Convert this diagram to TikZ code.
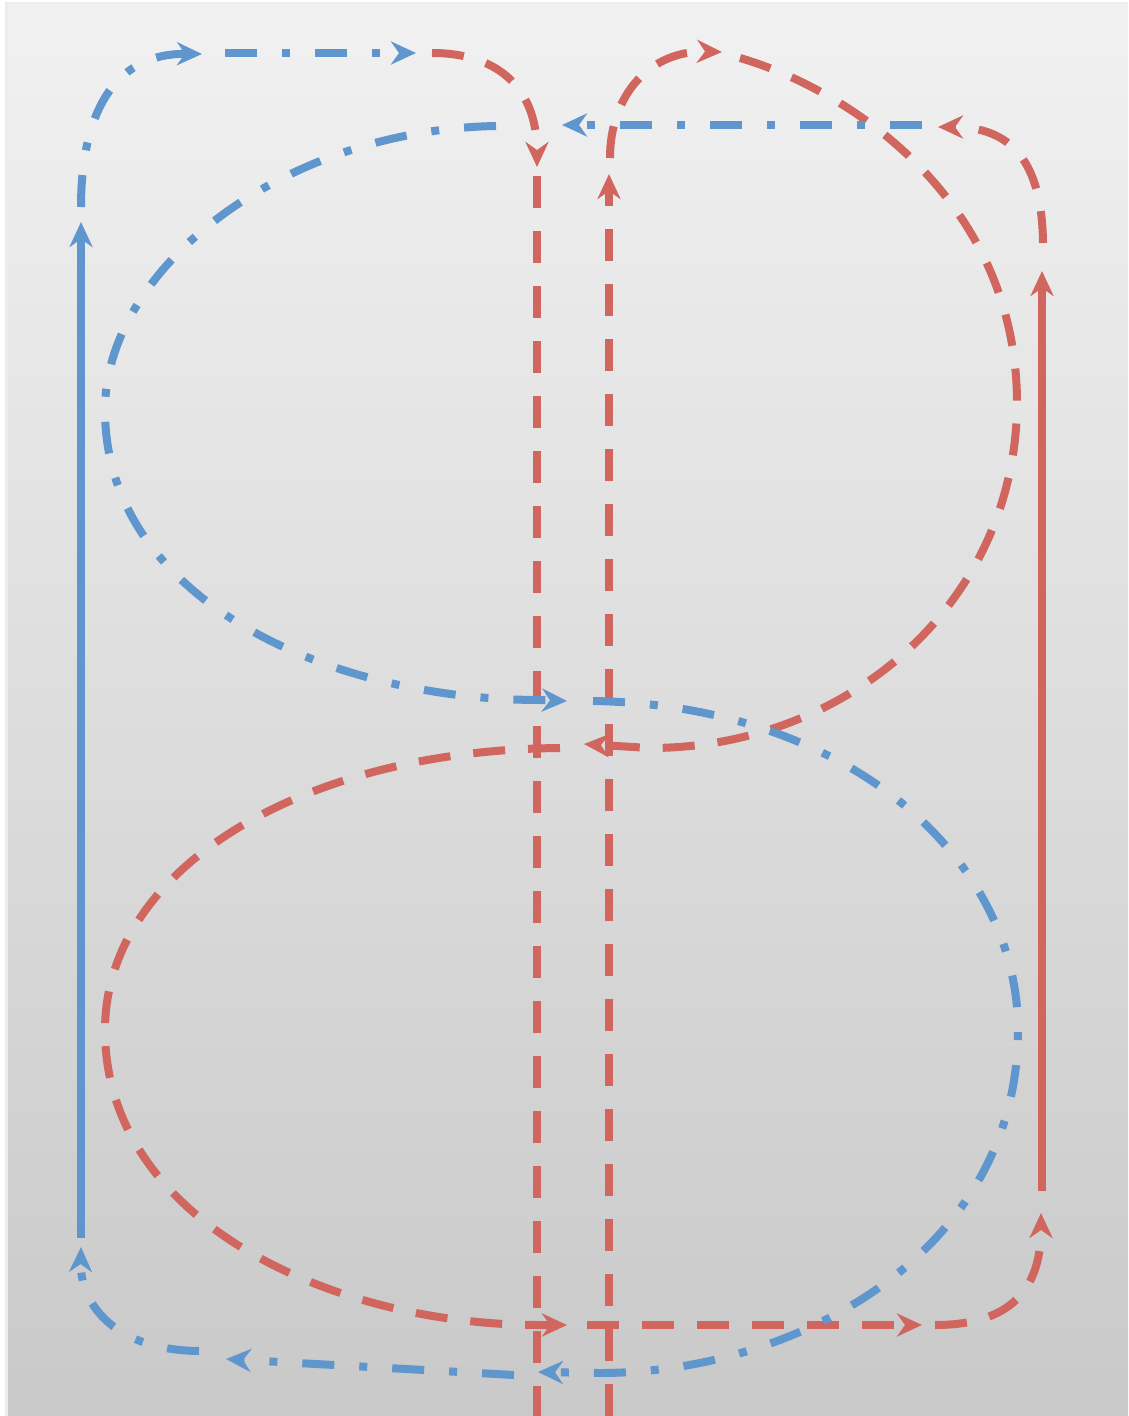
\documentclass[tikz,border=0pt]{standalone}
\usetikzlibrary{arrows.meta}
\definecolor{cblue}{RGB}{94,150,205}
\definecolor{cred}{RGB}{208,102,94}
\definecolor{bgtop}{RGB}{241,241,241}
\definecolor{bgbot}{RGB}{201,201,201}
\tikzset{
  x=1pt, y=-1pt,
  tip/.style={-{Stealth[length=25pt,width=23pt,inset=8pt]}},
  bluesolid/.style={draw=cblue, line width=8pt, tip},
  redsolid/.style={draw=cred, line width=8pt, tip},
  bluedd/.style={draw=cblue, line width=8pt, tip, dash pattern=on 32pt off 25pt on 8pt off 25pt},
  reddash/.style={draw=cred, line width=8pt, tip, dash pattern=on 32pt off 23pt},
  reddashplain/.style={draw=cred, line width=8pt, dash pattern=on 32pt off 23pt},
}
\begin{document}
\begin{tikzpicture}
\useasboundingbox (0,0) rectangle (1128,1416);
\fill[white] (0,0) rectangle (1128,1416);
\fill[black!7] (5,2) rectangle (1128,1416);
\shade[top color=bgtop, bottom color=bgbot] (8,4) rectangle (1128,1416);

% named coordinates
\coordinate (bsA) at (81,1238);
\coordinate (bsB) at (81,222);
\coordinate (rsA) at (1042,1191);
\coordinate (rsB) at (1042,271);
\coordinate (vlTop) at (537,176);
\coordinate (vlBot) at (537,1416);
\coordinate (vrBot) at (609,1416);
\coordinate (vrTop) at (609,174);

% vertical red dashed lines
\path[reddashplain] (vlTop) -- (vlBot);
\path[reddash] (vrBot) -- (vrTop);

% solid lines
\path[bluesolid] (bsA) -- (bsB);
\path[redsolid] (rsA) -- (rsB);

% blue top-left
\path[bluedd] (81,207) .. controls (81,120) and (110,53) .. (202,54);
\path[bluedd] (225,53) -- (416,53);
% red top-left to down
\path[reddash] (432,53) .. controls (500,53) and (537,90) .. (537,167);
% red top from right vertical
\path[reddash] (610,158) .. controls (610,95) and (650,50) .. (722,52);
% red big upper-right lobe
\path[reddash] (740,58) .. controls (850,90) and (1015,200) .. (1017,400)
  .. controls (1018,600) and (850,748) .. (650,748) -- (584,744);
% red lower-left lobe
\path[reddash] (560,748) .. controls (300,750) and (105,870) .. (105,1030)
  .. controls (105,1220) and (330,1325) .. (540,1325) -- (567,1325);
\path[reddash] (587,1325) -- (922,1325);
\path[reddash] (935,1325) .. controls (1010,1325) and (1041,1290) .. (1041,1213);
% red top-right
\path[reddash] (1043,243) .. controls (1042,160) and (1010,127) .. (938,127);
% blue top-right going left
\path[bluedd] (922,125) -- (562,125);
% blue upper-left lobe
\path[bluedd] (496,126) .. controls (280,130) and (105,270) .. (105,410)
  .. controls (105,600) and (330,700) .. (540,700) -- (567,701);
% blue lower-right lobe
\path[bluedd] (593,701) .. controls (850,705) and (1018,860) .. (1018,1030)
  .. controls (1018,1250) and (800,1373) .. (600,1373) -- (538,1372);
\path[bluedd] (514,1375) -- (226,1359);
\path[bluedd] (199,1351) .. controls (110,1350) and (80,1300) .. (81,1247);
\end{tikzpicture}
\end{document}
